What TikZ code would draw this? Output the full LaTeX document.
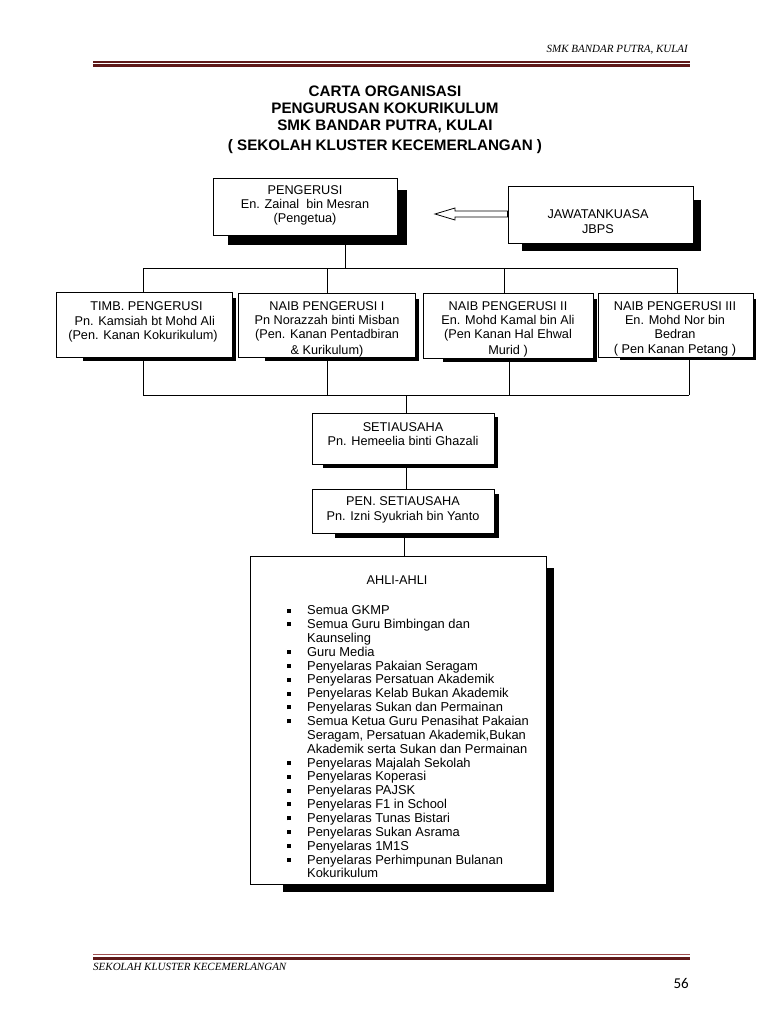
\documentclass[tikz,border=0pt]{standalone}
\usepackage{fontspec}
\setmainfont{Liberation Sans}
\newfontfamily\hdrfont{Liberation Serif}
\newfontfamily\numfont{Carlito}
\usetikzlibrary{calc}
\definecolor{maroonA}{RGB}{95,25,25}
\definecolor{maroonB}{RGB}{160,80,80}
\newcommand\shbox[8]{%
  \fill[black] (#2+#6,#3+#7) rectangle (#4+#8,#5+#8);
  \node[box, minimum width={(#4-#2)*1pt}, minimum height={(#5-#3)*1pt}] (#1) at ({(#2+#4)/2},{(#3+#5)/2}) {};
}
\newcommand\blt{\llap{\rule[2.2pt]{4pt}{4pt}\hspace{16pt}}}
\begin{document}
\begin{tikzpicture}[x=1pt,y=-1pt,
  box/.style={draw=black, fill=white, line width=0.9pt, inner sep=0pt},
  txt/.style={align=center, inner sep=0pt, font=\fontsize{12.7}{14.3}\selectfont},
  conn/.style={draw=black, line width=0.9pt}]
\useasboundingbox[fill=white] (0,0) rectangle (768,1024);
% header
\node[inner sep=0pt, anchor=east, font=\hdrfont\itshape\fontsize{11}{13}\selectfont] (hdr) at (688,50) {SMK BANDAR PUTRA, KULAI};
\coordinate (hl1) at (93,62); \coordinate (hr1) at (690,62);
\coordinate (hl2) at (93,65.5); \coordinate (hr2) at (690,65.5);
\draw[maroonA, line width=1.2pt] (hl1) -- (hr1);
\draw[maroonA, line width=3pt] (hl2) -- (hr2);
% footer
\coordinate (fl1) at (93,954.5); \coordinate (fr1) at (690,954.5);
\coordinate (fl2) at (93,958); \coordinate (fr2) at (690,958);
\draw[maroonB, line width=1.2pt] (fl1) -- (fr1);
\draw[maroonA, line width=3pt] (fl2) -- (fr2);
\node[inner sep=0pt, anchor=west, font=\hdrfont\itshape\fontsize{11}{13}\selectfont] (ftr) at (93,967) {SEKOLAH KLUSTER KECEMERLANGAN};
\node[inner sep=0pt, anchor=east, font=\numfont\fontsize{15}{17}\selectfont] (pg) at (689,983) {56};
% title
\node[align=center, inner sep=0pt, font=\bfseries\fontsize{15.2}{17.4}\selectfont] (title) at (385,119.5) {CARTA ORGANISASI\\PENGURUSAN KOKURIKULUM\\SMK BANDAR PUTRA, KULAI\\[2pt]( SEKOLAH KLUSTER KECEMERLANGAN )};
% boxes
\shbox{b0}{213}{178}{397}{235}{15}{12}{10}
\shbox{jb}{508}{186}{693}{243}{14}{14}{7.5}
\shbox{b1}{56}{292}{232}{357}{27}{6}{4}
\shbox{b2}{238}{293}{415}{357}{27}{6}{3.5}
\shbox{b3}{423}{293}{593}{358}{20}{6}{3.5}
\shbox{b4}{598}{293}{753}{357}{22}{6}{3}
\shbox{sec}{312}{413}{494}{464}{11}{4}{4}
\shbox{pen}{312}{489}{494}{533}{23}{5}{4.5}
\shbox{ahli}{250}{556}{546}{884}{33}{12}{7.5}
% texts
\node[txt] (t0) at (305,205.5) {PENGERUSI\\En. Zainal\ \ bin Mesran\\(Pengetua)};
\node[txt] (tj) at (598,221.5) {JAWATANKUASA\\JBPS};
\node[txt] (t1) at (143,322) {\ \ TIMB. PENGERUSI\\\ Pn. Kamsiah bt Mohd Ali\\(Pen. Kanan Kokurikulum)};
\node[txt] (t2) at (327,329) {NAIB PENGERUSI I\\Pn Norazzah binti Misban\\(Pen. Kanan Pentadbiran\\[1pt]\& Kurikulum)};
\node[txt] (t3) at (508,329) {NAIB PENGERUSI II\\En. Mohd Kamal bin Ali\\(Pen Kanan Hal Ehwal\\[1pt]Murid )};
\node[txt] (t4) at (675,328.5) {NAIB PENGERUSI III\\En. Mohd Nor bin\\Bedran\\( Pen Kanan Petang )};
\node[txt] (ts) at (403,434) {SETIAUSAHA\\Pn. Hemeelia binti Ghazali};
\node[txt] (tp) at (403,510) {PEN. SETIAUSAHA\\Pn. Izni Syukriah bin Yanto};
\node[txt] (ta) at (397,580) {AHLI-AHLI};
\node[inner sep=0pt, anchor=north west, align=left, font=\fontsize{12.9}{13.85}\selectfont] (list) at (307,605.5) {%
\blt Semua GKMP\\
\blt Semua Guru Bimbingan dan\\
Kaunseling\\
\blt Guru Media\\
\blt Penyelaras Pakaian Seragam\\
\blt Penyelaras Persatuan Akademik\\
\blt Penyelaras Kelab Bukan Akademik\\
\blt Penyelaras Sukan dan Permainan\\
\blt Semua Ketua Guru Penasihat Pakaian\\
Seragam, Persatuan Akademik,Bukan\\
Akademik serta Sukan dan Permainan\\
\blt Penyelaras Majalah Sekolah\\
\blt Penyelaras Koperasi\\
\blt Penyelaras PAJSK\\
\blt Penyelaras F1 in School\\
\blt Penyelaras Tunas Bistari\\
\blt Penyelaras Sukan Asrama\\
\blt Penyelaras 1M1S\\
\blt Penyelaras Perhimpunan Bulanan\\
Kokurikulum};
% hollow arrow from JBPS to PENGERUSI
\coordinate (atip) at (435,214);
\draw[line width=0.8pt, fill=white] (jb.west |- 0,211) -- (455,211) -- (455,208) -- (atip) -- (455,220) -- (455,217) -- (jb.west |- 0,217) -- cycle;
% connectors
\coordinate (c0) at (345.7,268);
\coordinate (tl) at (143,268);
\coordinate (tr) at (677,268);
\coordinate (t2x) at (327,268);
\coordinate (t3x) at (504,268);
\draw[conn] (c0 |- b0.south) -- (c0);
\draw[conn] (tl) -- (tr);
\draw[conn] (tl) -- (tl |- b1.north);
\draw[conn] (t2x) -- (t2x |- b2.north);
\draw[conn] (t3x) -- (t3x |- b3.north);
\draw[conn] (tr) -- (tr |- b4.north);
\coordinate (bl) at (143,395);
\coordinate (br) at (689,395);
\coordinate (b2x) at (327,395);
\coordinate (b3x) at (509,395);
\coordinate (bc) at (406,395);
\draw[conn] (bl) -- (br);
\draw[conn] (bl |- b1.south) -- (bl);
\draw[conn] (b2x |- b2.south) -- (b2x);
\draw[conn] (b3x |- b3.south) -- (b3x);
\draw[conn] (br |- b4.south) -- (br);
\draw[conn] (bc) -- (bc |- sec.north);
\coordinate (sx) at (406,470);
\draw[conn] (sx |- sec.south) -- (sx |- pen.north);
\coordinate (px) at (404,540);
\draw[conn] (px |- pen.south) -- (px |- ahli.north);
\end{tikzpicture}
\end{document}
